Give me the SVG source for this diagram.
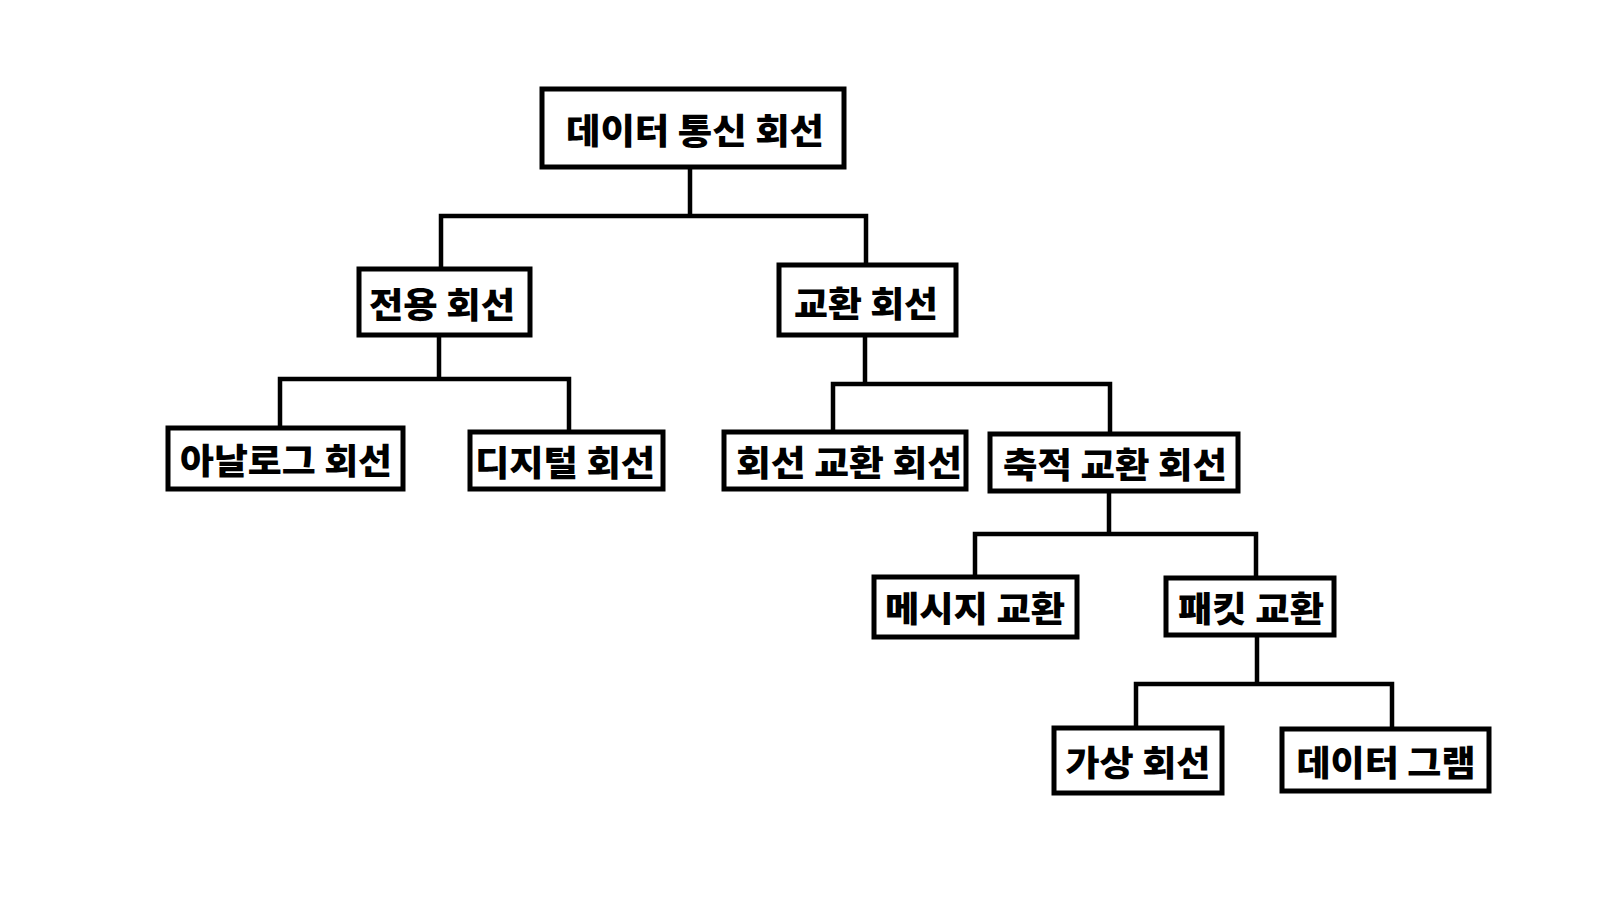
<svg xmlns="http://www.w3.org/2000/svg" width="1600" height="900" viewBox="0 0 1600 900">
<style>
.box{fill:#ffffff;stroke:#000000;stroke-width:5}
.lbl{font-family:"Noto Sans CJK KR","Noto Sans CJK SC",sans-serif;font-weight:900;font-size:35px;fill:#000000;text-anchor:middle;dominant-baseline:central}
.con{fill:none;stroke:#000000;stroke-width:4.5;stroke-linejoin:miter;stroke-linecap:square}
</style>
<rect width="1600" height="900" fill="#ffffff"/>
<g id="connectors">
<path class="con" d="M690 169 V216 M441 267 V216 H866 V263"/>
<path class="con" d="M439 336 V379 M280 426 V379 H569 V430"/>
<path class="con" d="M865 336 V384 M833 430 V384 H1110 V432"/>
<path class="con" d="M1109 492 V534 M975 575 V534 H1256 V576"/>
<path class="con" d="M1257 636 V684 M1136 726 V684 H1392 V727"/>
</g>
<g id="root">
<rect class="box" x="542" y="89" width="302" height="78"/>
<text class="lbl" x="695" y="128" textLength="258" lengthAdjust="spacingAndGlyphs">데이터 통신 회선</text>
</g>
<g id="dedicated">
<rect class="box" x="359" y="269" width="171" height="66"/>
<text class="lbl" x="442" y="302" textLength="146" lengthAdjust="spacingAndGlyphs">전용 회선</text>
</g>
<g id="switched">
<rect class="box" x="779" y="265" width="177" height="70"/>
<text class="lbl" x="866" y="301" textLength="144" lengthAdjust="spacingAndGlyphs">교환 회선</text>
</g>
<g id="analog">
<rect class="box" x="168" y="428" width="235" height="61"/>
<text class="lbl" x="286" y="458" textLength="212" lengthAdjust="spacingAndGlyphs">아날로그 회선</text>
</g>
<g id="digital">
<rect class="box" x="470" y="432" width="193" height="57"/>
<text class="lbl" x="565" y="460" textLength="180" lengthAdjust="spacingAndGlyphs">디지털 회선</text>
</g>
<g id="circuit">
<rect class="box" x="724" y="432" width="242" height="57"/>
<text class="lbl" x="849" y="460" textLength="226" lengthAdjust="spacingAndGlyphs">회선 교환 회선</text>
</g>
<g id="store">
<rect class="box" x="990" y="434" width="248" height="57"/>
<text class="lbl" x="1115" y="462" textLength="224" lengthAdjust="spacingAndGlyphs">축적 교환 회선</text>
</g>
<g id="message">
<rect class="box" x="874" y="577" width="203" height="60"/>
<text class="lbl" x="975" y="606" textLength="180" lengthAdjust="spacingAndGlyphs">메시지 교환</text>
</g>
<g id="packet">
<rect class="box" x="1166" y="578" width="168" height="57"/>
<text class="lbl" x="1251" y="606" textLength="146" lengthAdjust="spacingAndGlyphs">패킷 교환</text>
</g>
<g id="virtual">
<rect class="box" x="1054" y="728" width="168" height="65"/>
<text class="lbl" x="1138" y="760" textLength="145" lengthAdjust="spacingAndGlyphs">가상 회선</text>
</g>
<g id="datagram">
<rect class="box" x="1282" y="729" width="207" height="62"/>
<text class="lbl" x="1386" y="760" textLength="179" lengthAdjust="spacingAndGlyphs">데이터 그램</text>
</g>
</svg>
